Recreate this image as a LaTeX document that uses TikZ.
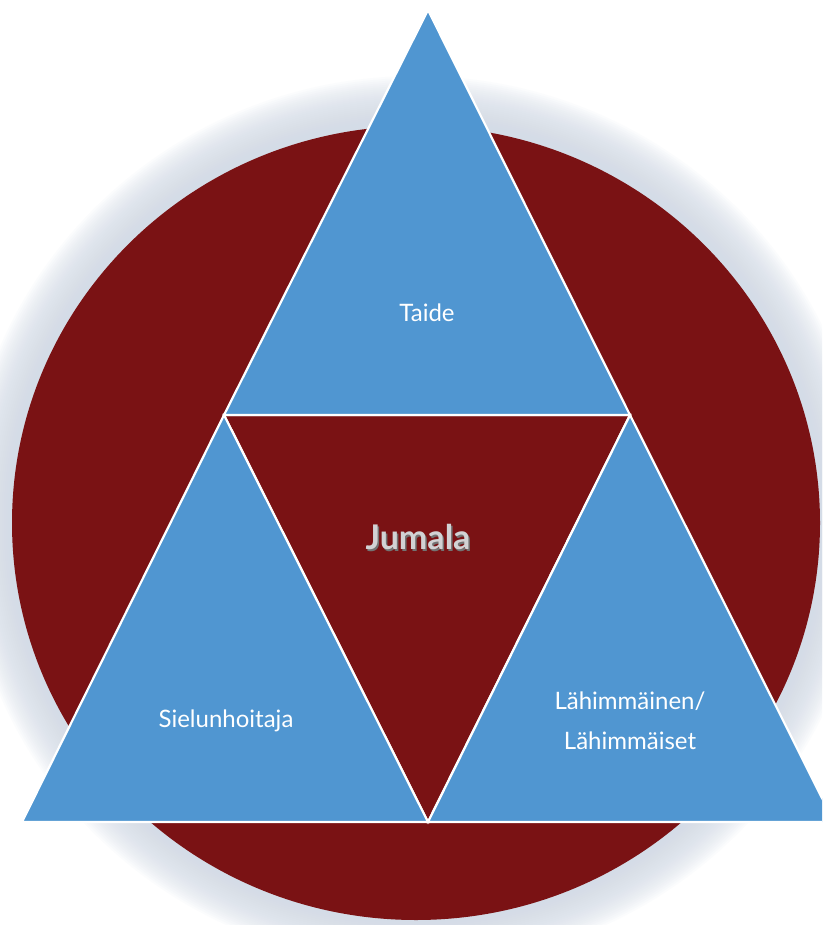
\documentclass[tikz,border=0pt]{standalone}
\usepackage{fontspec}
\setmainfont{Lato}
\definecolor{cred}{HTML}{7A1214}
\definecolor{cblue}{HTML}{5096D1}
\definecolor{glow}{HTML}{D4DCE7}
\definecolor{jgray}{HTML}{D2D2D4}
\tikzset{
  tri/.style={fill=cblue, draw=white, line width=2.2pt, line join=miter},
  midtri/.style={fill=cred, draw=white, line width=2.2pt},
  lbl/.style={text=white, font=\fontsize{24}{40}\selectfont, align=center},
}
\begin{document}
\begin{tikzpicture}[x=1pt,y=-1pt]
\useasboundingbox (0,0) rectangle (822,925);
\clip (0,0) rectangle (822,925);
\fill[white] (0,0) rectangle (822,925);
% glow
\foreach \i in {48,46,...,0}{
  \fill[glow, opacity=0.08] (416,521) ellipse ({404+\i} and {397+\i});
}
\fill[cred] (416,523) ellipse (404 and 397);
% triangles
\coordinate (A) at (428,10);
\coordinate (B) at (224,415);
\coordinate (C) at (630,415);
\coordinate (D) at (22,822);
\coordinate (E) at (428,822);
\coordinate (F) at (834,822);
\draw[midtri] (B) -- (C) -- (E) -- cycle;
\draw[tri] (A) -- (B) -- (C) -- cycle;
\draw[tri] (B) -- (D) -- (E) -- cycle;
\draw[tri] (C) -- (E) -- (F) -- cycle;
% labels
\node[lbl] (taide) at (427,313) {Taide};
\node[lbl] (sielu) at (226,721) {Sielunhoitaja};
\node[lbl] (lahi) at (630,721) {Lähimmäinen/\\Lähimmäiset};
\node[text=black!55, font=\fontsize{34}{40}\selectfont\bfseries] at (419.5,538.5) {Jumala};
\node[text=jgray, font=\fontsize{34}{40}\selectfont\bfseries] (jumala) at (418,537) {Jumala};
\end{tikzpicture}
\end{document}
